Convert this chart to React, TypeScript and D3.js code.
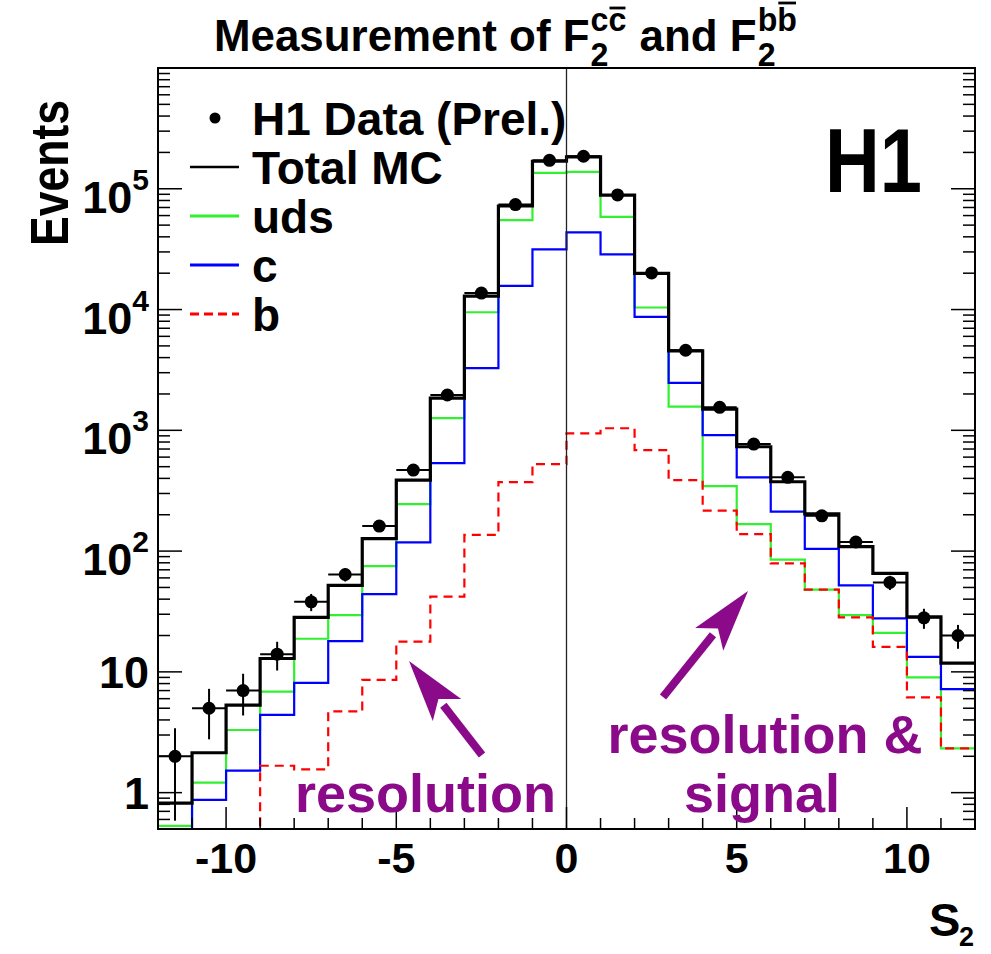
import React, { useEffect, useRef } from "react";
import * as d3 from "d3";

// ---------- data ----------
const binCenters = [
  -11.5, -10.5, -9.5, -8.5, -7.5, -6.5, -5.5, -4.5, -3.5, -2.5, -1.5, -0.5,
  0.5, 1.5, 2.5, 3.5, 4.5, 5.5, 6.5, 7.5, 8.5, 9.5, 10.5, 11.5,
];
const binWidth = 1;

const dataEvents = [
  2, 5, 7, 14, 38, 64, 161, 469, 1960, 13700, 74000, 172000,
  186000, 89000, 20100, 4600, 1550, 770, 408, 196, 119, 55, 28, 20,
];
const totalMC = [
  0.82, 2.14, 5.3, 12.9, 28.3, 52, 127, 387, 1850, 12900, 72000, 169000,
  184000, 88500, 19900, 4550, 1500, 731, 375, 203, 109, 65.5, 28.6, 11.8,
];
const udsMC = [
  0.53, 1.21, 3.3, 6.85, 18.8, 29.5, 75, 245, 1260, 9500, 55000, 135600,
  138000, 58600, 10400, 1570, 345, 167, 85, 48, 29.5, 21, 9.0, 2.33,
];
const charmMC = [
  0.4, 0.87, 1.52, 4.4, 8.1, 18, 44, 118, 535, 3270, 15700, 31500,
  43500, 28600, 8700, 2475, 913, 408, 212, 104.5, 52, 27.7, 13.3, 7.2,
];
const beautyMC = [
  0.3, 0.3, 0.3, 1.67, 1.56, 4.7, 8.6, 17.8, 41.9, 136, 373, 525,
  943, 1040, 686, 387, 216, 138, 79, 48, 28.3, 16.1, 6.15, 2.33,
];

const xMajorTicks = [-10, -5, 0, 5, 10];
const xTickLabels = ["-10", "-5", "0", "5", "10"];
const yMajorTicks = [1, 10, 100, 1000, 10000, 100000];
const yTickBases = ["1", "10", "10", "10", "10", "10"];
const yTickExps = ["", "", "2", "3", "4", "5"];

const legendLabels = ["H1 Data (Prel.)", "Total MC", "uds", "c", "b"];

// ---------- layout ----------
const W = 991;
const H = 954;
const L = 158, R = 975, T = 68, B = 829;
const FONT = "'Liberation Sans', Arial, Helvetica, sans-serif";
const PURPLE = "#8a0a8a";
const GREEN = "#30f030";
const BLUE = "#0000ff";
const RED = "#ff0000";

export default function App() {
  const ref = useRef<SVGSVGElement | null>(null);

  useEffect(() => {
    const svg = d3.select(ref.current);
    svg.selectAll("*").remove();

    const x = d3.scaleLinear().domain([-12, 12]).range([L, R]);
    const y = d3.scaleLog().domain([0.5, 1e6]).range([B, T]).clamp(true);

    svg.append("rect").attr("width", W).attr("height", H).attr("fill", "#fff");

    svg.append("defs").append("clipPath").attr("id", "frameClip")
      .append("rect").attr("x", L).attr("y", T - 2).attr("width", R - L).attr("height", B - T + 4);

    const histPath = (vals: number[]) => {
      const pts: [number, number][] = [];
      binCenters.forEach((c, i) => {
        pts.push([x(c - binWidth / 2), y(vals[i])]);
        pts.push([x(c + binWidth / 2), y(vals[i])]);
      });
      return d3.line()(pts) as string;
    };

    const hg = svg.append("g").attr("clip-path", "url(#frameClip)");
    hg.append("path").attr("d", histPath(udsMC)).attr("fill", "none").attr("stroke", GREEN).attr("stroke-width", 2.2);
    hg.append("path").attr("d", histPath(charmMC)).attr("fill", "none").attr("stroke", BLUE).attr("stroke-width", 2.2);
    hg.append("path").attr("d", histPath(beautyMC)).attr("fill", "none").attr("stroke", RED).attr("stroke-width", 2.2).attr("stroke-dasharray", "9,6");
    hg.append("path").attr("d", histPath(totalMC)).attr("fill", "none").attr("stroke", "#000").attr("stroke-width", 3.2);

    // vertical line at 0
    svg.append("line").attr("x1", x(0)).attr("x2", x(0)).attr("y1", T).attr("y2", B)
      .attr("stroke", "#222").attr("stroke-width", 1.3);

    // frame
    svg.append("rect").attr("x", L).attr("y", T).attr("width", R - L).attr("height", B - T)
      .attr("fill", "none").attr("stroke", "#000").attr("stroke-width", 2);

    // x ticks
    const xMinor = d3.range(-11, 12, 1).filter((v) => !xMajorTicks.includes(v));
    const tg = svg.append("g").attr("stroke", "#000").attr("stroke-width", 1.5);
    xMinor.forEach((v) => tg.append("line").attr("x1", x(v)).attr("x2", x(v)).attr("y1", B).attr("y2", B - 11));
    xMajorTicks.forEach((v) => tg.append("line").attr("x1", x(v)).attr("x2", x(v)).attr("y1", B).attr("y2", B - 22));

    // y ticks (left and right)
    const yMinor: number[] = [];
    [0.1, 1, 10, 100, 1000, 10000, 100000].forEach((d) => {
      for (let k = 2; k <= 9; k++) {
        const v = k * d;
        if (v >= 0.5 && v <= 1e6) yMinor.push(v);
      }
    });
    yMinor.forEach((v) => {
      tg.append("line").attr("x1", L).attr("x2", L + 12).attr("y1", y(v)).attr("y2", y(v));
      tg.append("line").attr("x1", R).attr("x2", R - 12).attr("y1", y(v)).attr("y2", y(v));
    });
    yMajorTicks.forEach((v) => {
      tg.append("line").attr("x1", L).attr("x2", L + 24).attr("y1", y(v)).attr("y2", y(v));
      tg.append("line").attr("x1", R).attr("x2", R - 24).attr("y1", y(v)).attr("y2", y(v));
    });

    // x labels
    xMajorTicks.forEach((v, i) => {
      svg.append("text").attr("x", x(v)).attr("y", 873).attr("text-anchor", "middle")
        .attr("font-family", FONT).attr("font-weight", "bold").attr("font-size", 43).text(xTickLabels[i]);
    });
    // y labels
    yMajorTicks.forEach((v, i) => {
      const t = svg.append("text").attr("x", 149).attr("text-anchor", "end")
        .attr("font-family", FONT).attr("font-weight", "bold").attr("font-size", 45);
      if (yTickExps[i]) {
        t.attr("y", y(v) + 24);
        t.append("tspan").text(yTickBases[i]);
        t.append("tspan").attr("dy", -23).attr("font-size", 30).text(yTickExps[i]);
      } else {
        t.attr("y", y(v) + 16).text(yTickBases[i]);
      }
    });

    // data points
    const dg = svg.append("g");
    binCenters.forEach((c, i) => {
      const v = dataEvents[i];
      const e = Math.sqrt(v);
      const cx = x(c), cy = y(v);
      dg.append("line").attr("x1", x(c - binWidth / 2)).attr("x2", x(c + binWidth / 2)).attr("y1", cy).attr("y2", cy)
        .attr("stroke", "#000").attr("stroke-width", 2);
      dg.append("line").attr("x1", cx).attr("x2", cx).attr("y1", y(Math.max(v - e, 0.5))).attr("y2", y(v + e))
        .attr("stroke", "#000").attr("stroke-width", 2);
      dg.append("circle").attr("cx", cx).attr("cy", cy).attr("r", 6.5).attr("fill", "#000");
    });

    // legend
    const lg = svg.append("g").attr("font-family", FONT).attr("font-weight", "bold").attr("font-size", 46);
    const rows = [118, 167, 216, 265, 314];
    lg.append("circle").attr("cx", 215).attr("cy", rows[0]).attr("r", 5.5).attr("fill", "#000");
    const lineStyles = [
      { c: "#000", w: 2.5, dash: null },
      { c: GREEN, w: 3, dash: null },
      { c: BLUE, w: 3, dash: null },
      { c: RED, w: 3, dash: "9,5" },
    ];
    lineStyles.forEach((s, i) => {
      const l = lg.append("line").attr("x1", 190).attr("x2", 239).attr("y1", rows[i + 1]).attr("y2", rows[i + 1])
        .attr("stroke", s.c).attr("stroke-width", s.w);
      if (s.dash) l.attr("stroke-dasharray", s.dash);
    });
    legendLabels.forEach((lab, i) => {
      lg.append("text").attr("x", 252).attr("y", rows[i] + 17).text(lab);
    });

    // H1 label
    svg.append("text").attr("x", 825).attr("y", 192).attr("font-family", FONT).attr("font-weight", "bold")
      .attr("font-size", 90).attr("textLength", 97).attr("lengthAdjust", "spacingAndGlyphs").text("H1");

    // axis titles
    svg.append("text").attr("transform", "translate(68,100) rotate(-90)").attr("text-anchor", "end")
      .attr("font-family", FONT).attr("font-weight", "bold").attr("font-size", 54)
      .attr("textLength", 146).attr("lengthAdjust", "spacingAndGlyphs").text("Events");
    svg.append("text").attr("x", 929).attr("y", 936).attr("font-family", FONT).attr("font-weight", "bold")
      .attr("font-size", 47).text("S");
    svg.append("text").attr("x", 959).attr("y", 946).attr("font-family", FONT).attr("font-weight", "bold")
      .attr("font-size", 27).text("2");

    // annotations
    const ag = svg.append("g").attr("fill", PURPLE);
    const arrow = (tail: [number, number], tip: [number, number]) => {
      const dx = tip[0] - tail[0], dy = tip[1] - tail[1];
      const len = Math.hypot(dx, dy);
      const ux = dx / len, uy = dy / len;
      const headLen = 62, half = 18;
      const bx = tip[0] - ux * headLen, by = tip[1] - uy * headLen;
      ag.append("line").attr("x1", tail[0]).attr("y1", tail[1]).attr("x2", bx + ux * 6).attr("y2", by + uy * 6)
        .attr("stroke", PURPLE).attr("stroke-width", 8);
      ag.append("polygon").attr("points", [
        [tip[0], tip[1]],
        [bx - uy * half, by + ux * half],
        [bx + ux * 14, by + uy * 14],
        [bx + uy * half, by - ux * half],
      ].map((p) => p.join(",")).join(" "));
    };
    arrow([482, 755], [409, 661]);
    arrow([663, 697], [748, 591]);
    const at = (txt: string, xx: number, yy: number, anchor: string) =>
      ag.append("text").attr("x", xx).attr("y", yy).attr("text-anchor", anchor).attr("font-family", FONT)
        .attr("font-weight", "bold").attr("font-size", 54).text(txt);
    at("resolution", 295, 812, "start");
    at("resolution &", 765, 753, "middle");
    at("signal", 762, 812, "middle");

    // title with super/subscripts and overbars
    const title = svg.append("g").attr("font-family", FONT).attr("font-weight", "bold");
    let cur = 0;
    const base = 51, supY = 31, subY = 66, fMain = 45, fScr = 33;
    const add = (txt: string, xx: number, yy: number, fs: number) => {
      const t = title.append("text").attr("x", xx).attr("y", yy).attr("font-size", fs).text(txt);
      return (t.node() as SVGTextElement).getComputedTextLength();
    };
    const scriptPair = (a: string, b: string, barY: number) => {
      const s0 = cur + 1;
      const wa = add(a, s0, supY, fScr);
      const wb = add(b, s0 + wa, supY, fScr);
      title.append("line").attr("x1", s0 + wa + 1).attr("x2", s0 + wa + wb - 1).attr("y1", barY).attr("y2", barY)
        .attr("stroke", "#000").attr("stroke-width", 2.8);
      const w2 = add("2", s0, subY, fScr);
      cur = s0 + Math.max(wa + wb, w2);
    };
    cur += add("Measurement of F", cur, base, fMain);
    scriptPair("c", "c", 8);
    cur += 0.3 * fMain;
    cur += add("and F", cur, base, fMain);
    scriptPair("b", "b", 3);
    const scale = 583 / cur;
    title.attr("transform", `translate(214,0) scale(${Math.min(scale, 1.05)},1)`);
  }, []);

  return (
    <svg ref={ref} width={W} height={H} style={{ position: "absolute", left: 0, top: 0 }} />
  );
}
